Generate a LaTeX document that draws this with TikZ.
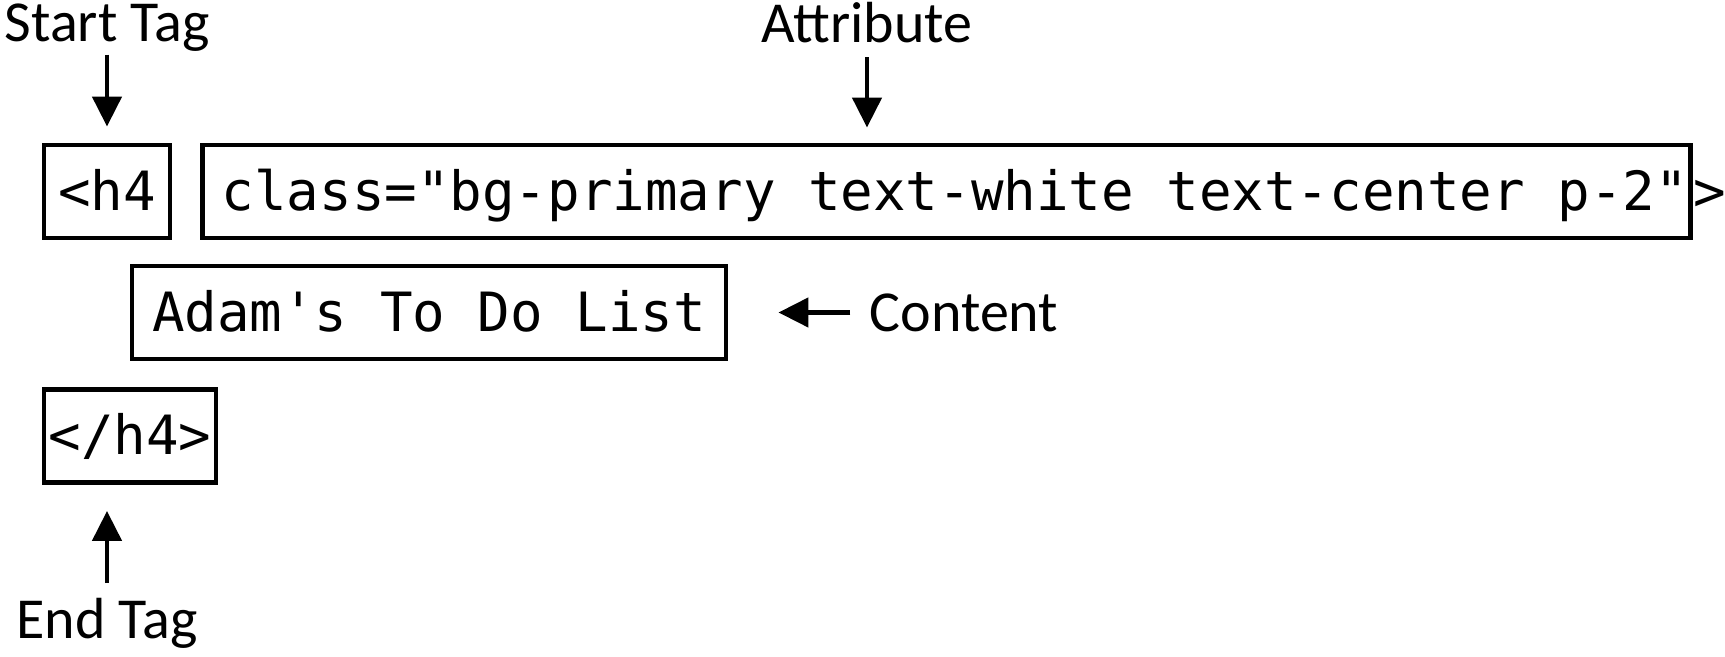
\documentclass[tikz,border=0pt]{standalone}
\usepackage{fontspec}
\newfontfamily\labelfont{Carlito}
\newfontfamily\codefont{DejaVu Sans Mono}[Ligatures=TeXOff]
\usetikzlibrary{positioning, arrows.meta}

\begin{document}
\begin{tikzpicture}[
    >={Triangle[length=0.6cm, width=0.58cm]},
    codebox/.style={rectangle, draw=black, line width=2.8pt, inner xsep=0pt,
                    minimum height=1.86cm, font=\codefont\fontsize{30.8}{36}\selectfont,
                    text height=27.7pt, text depth=6.2pt},
    code/.style={inner sep=0pt, font=\codefont\fontsize{30.8}{36}\selectfont,
                 text height=27.7pt, text depth=6.2pt},
    lbl/.style={inner sep=0pt, font=\labelfont\fontsize{33}{40}\selectfont,
                text height=23.1pt, text depth=6.6pt},
    arrow/.style={->, line width=2.7pt},
]
\useasboundingbox (0,0) rectangle (34.5,13.14);

% Tag boxes
\node[codebox, minimum width=2.52cm] (starttag) at (2.14, 9.31) {<h4};
\node[codebox, right=0.56cm of starttag, minimum width=29.76cm] (attr) {\hspace*{0.32cm}class="bg-primary text-white text-center p-2"};
\node[code, right=0pt of attr] (close) {>};
\node[codebox, minimum width=11.88cm] (content) at (8.58, 6.89) {Adam\textquotesingle s To Do List};
\node[codebox, minimum width=3.44cm] (endtag) at (2.60, 4.42) {</h4>};

% Labels
\node[lbl, above=1.79cm of starttag] (startlbl) {Start Tag};
\node[lbl, anchor=base] (attrlbl) at (17.34, 12.28) {Attribute};
\node[lbl, right=2.82cm of content, yshift=-0.1cm] (contentlbl) {Content};
\node[lbl, anchor=base] (endlbl) at (2.14, 0.36) {End Tag};

% Arrows
\draw[arrow, shorten <=0.03cm, shorten >=0.32cm] (startlbl) -- (starttag);
\draw[arrow, shorten <=0.05cm, shorten >=0.3cm] (attrlbl.south) -- (attrlbl.south |- attr.north);
\draw[arrow, shorten <=0.38cm, shorten >=1cm] (content.east -| contentlbl.west) -- (content.east);
\draw[arrow, shorten <=0.3cm, shorten >=0.52cm] (endlbl.north) -- (endlbl.north |- endtag.south);

\end{tikzpicture}
\end{document}
